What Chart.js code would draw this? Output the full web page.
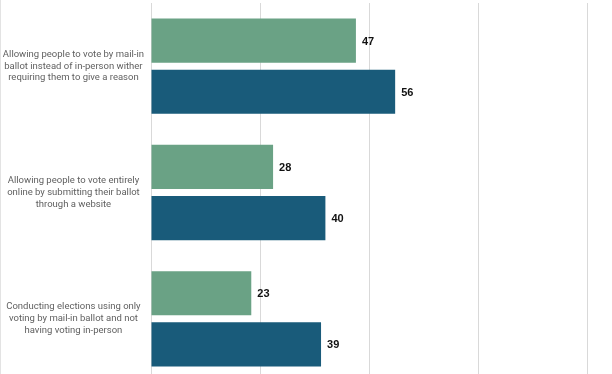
<!DOCTYPE html>
<html>
<head>
<meta charset="utf-8">
<script src="https://cdn.jsdelivr.net/npm/chart.js@4"></script>
<style>
  html, body { margin: 0; padding: 0; background: #fff; overflow: hidden; width: 612px; height: 374px; }
  #wrap { position: absolute; left: 0; top: 0; width: 612px; height: 382px; border-left: 1px solid #e3e3e3; box-sizing: border-box; }
</style>
</head>
<body>
<div id="wrap"><canvas id="c"></canvas></div>
<script>
const categories = [
  ["Allowing people to vote by mail-in", "ballot instead of in-person wither", "requiring them to give a reason"],
  ["Allowing people to vote entirely", "online by submitting their ballot", "through a website"],
  ["Conducting elections using only", "voting by mail-in ballot and not", "having voting in-person"]
];
const seriesA = [47, 28, 23];
const seriesB = [56, 40, 39];
const xTicks = [0, 25, 50, 75, 100];

const valueLabels = {
  id: 'valueLabels',
  afterDatasetsDraw(chart) {
    const ctx = chart.ctx;
    ctx.save();
    ctx.font = 'bold 11px "Liberation Sans", Arial, sans-serif';
    ctx.fillStyle = '#111';
    ctx.textAlign = 'left';
    ctx.textBaseline = 'middle';
    chart.data.datasets.forEach((ds, i) => {
      const meta = chart.getDatasetMeta(i);
      meta.data.forEach((bar, j) => {
        ctx.fillText(String(ds.data[j]), bar.x + 6, bar.y + 1);
      });
    });
    ctx.restore();
  }
};

new Chart(document.getElementById('c'), {
  type: 'bar',
  data: {
    labels: categories,
    datasets: [
      { data: seriesA, backgroundColor: '#6aa285' },
      { data: seriesB, backgroundColor: '#195b7a' }
    ]
  },
  options: {
    indexAxis: 'y',
    responsive: true,
    maintainAspectRatio: false,
    animation: false,
    devicePixelRatio: 1,
    layout: { padding: { top: 3, right: 25, bottom: 0, left: 0 } },
    categoryPercentage: 0.81,
    barPercentage: 0.863,
    plugins: { legend: { display: false }, tooltip: { enabled: false } },
    scales: {
      x: {
        min: 0, max: 100,
        afterBuildTicks(scale) { scale.ticks = xTicks.map(v => ({ value: v })); },
        afterFit(scale) { scale.height = 0; scale.paddingLeft = 0; scale.paddingRight = 0; },
        ticks: { display: false },
        grid: { color: '#d9d9d9', lineWidth: 1, drawTicks: false },
        border: { display: false }
      },
      y: {
        afterFit(scale) { scale.width = 150; scale.paddingTop = 0; scale.paddingBottom = 0; },
        ticks: {
          crossAlign: 'center',
          padding: 7,
          color: '#5f5f5f',
          font: { family: 'Roboto, "Open Sans", sans-serif', size: 9.5, lineHeight: 1.25 }
        },
        grid: { display: false, drawTicks: false },
        border: { display: false }
      }
    }
  },
  plugins: [valueLabels]
});
</script>
</body>
</html>
